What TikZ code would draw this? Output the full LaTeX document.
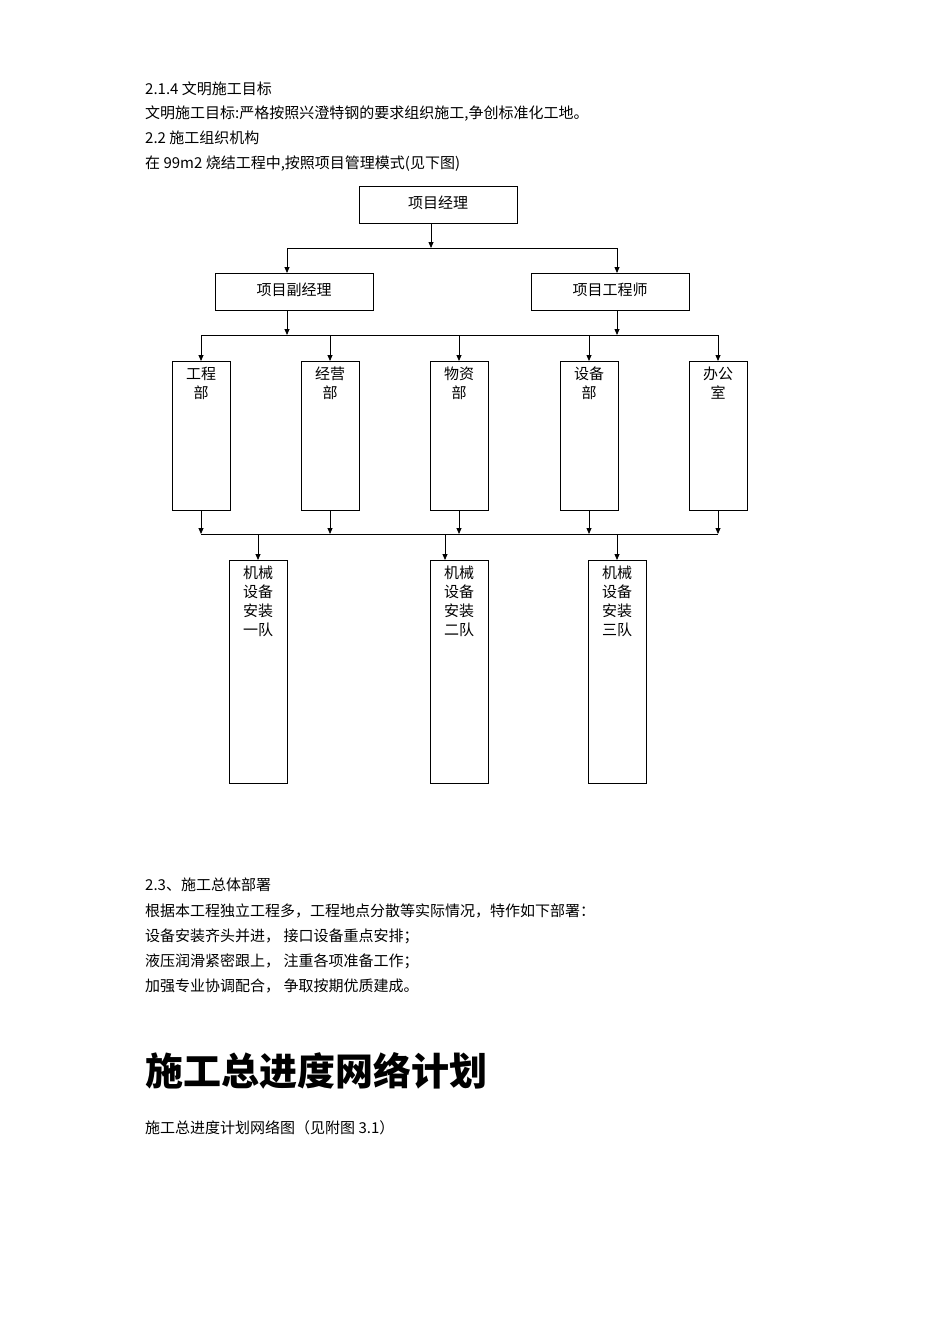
\documentclass[tikz,border=0pt]{standalone}
\usepackage{fontspec}
\setmainfont{Noto Sans CJK SC}
\usetikzlibrary{arrows.meta}
\begin{document}
\begin{tikzpicture}[x=1pt,y=-1pt,
  box/.style={draw,line width=0.8pt,inner sep=0},
  ar/.style={-{Triangle[length=6pt,width=5pt]},line width=0.8pt},
  ln/.style={line width=0.8pt},
  txt/.style={anchor=base west,font=\fontsize{15}{18}\selectfont,inner sep=0},
  lab/.style={font=\fontsize{15}{19}\selectfont,align=center,anchor=north,inner sep=0}]
\useasboundingbox (0,0) rectangle (950,1344);
\node[txt] (t1) at (145,94) {2.1.4 文明施工目标};
\node[txt] (t2) at (145,118) {文明施工目标:严格按照兴澄特钢的要求组织施工,争创标准化工地。};
\node[txt] (t3) at (145,143) {2.2 施工组织机构};
\node[txt] (t4) at (145,168) {在 99m2 烧结工程中,按照项目管理模式(见下图)};
% top
\draw[box] (359,186) rectangle (517,223); \node (pm) at (438,203) [font=\fontsize{15}{18}\selectfont] {项目经理};
\draw[box] (215,273) rectangle (373,310); \node (dpm) at (294,290) [font=\fontsize{15}{18}\selectfont] {项目副经理};
\draw[box] (531,273) rectangle (689,310); \node (eng) at (610,290) [font=\fontsize{15}{18}\selectfont] {项目工程师};
\coordinate (a1) at (431,248);
\draw[ar] (431,223) -- (a1);
\draw[ln] (287,248) -- (617,248);
\draw[ar] (287,248) -- (287,273);
\draw[ar] (617,248) -- (617,273);
\draw[ar] (287,310) -- (287,335);
\draw[ar] (617,310) -- (617,335);
\draw[ln] (201,335) -- (718,335);
\foreach \x/\l in {201/{工程\\部},330/{经营\\部},459/{物资\\部},589/{设备\\部},718/{办公\\室}}{
  \draw[ar] (\x,335) -- (\x,361);
  \draw[box] (\x-29,361) rectangle (\x+29,510);
  \node[lab] at (\x,367) {\l};
  \draw[ar] (\x,510) -- (\x,534);
}
\draw[ln] (201,534) -- (718,534);
\foreach \x/\c/\l in {258/258/{机械\\设备\\安装\\一队},445/459/{机械\\设备\\安装\\二队},617/617/{机械\\设备\\安装\\三队}}{
  \draw[ar] (\x,534) -- (\x,560);
  \draw[box] (\c-29,560) rectangle (\c+29,783);
  \node[lab] at (\c,566) {\l};
}
\node[txt] (t5) at (145,890) {2.3、施工总体部署};
\node[txt] (t6) at (145,916) {根据本工程独立工程多，工程地点分散等实际情况，特作如下部署：};
\node[txt] (t7) at (145,941) {设备安装齐头并进，\ 接口设备重点安排；};
\node[txt] (t8) at (145,966) {液压润滑紧密跟上，\ 注重各项准备工作；};
\node[txt] (t9) at (145,991) {加强专业协调配合，\ 争取按期优质建成。};
\node[anchor=base west,inner sep=0,font=\fontsize{38}{42}\selectfont\bfseries] (h) at (145,1085) {施工总进度网络计划};
\node[txt] (t10) at (145,1133) {施工总进度计划网络图（见附图 3.1）};
\end{tikzpicture}
\end{document}
